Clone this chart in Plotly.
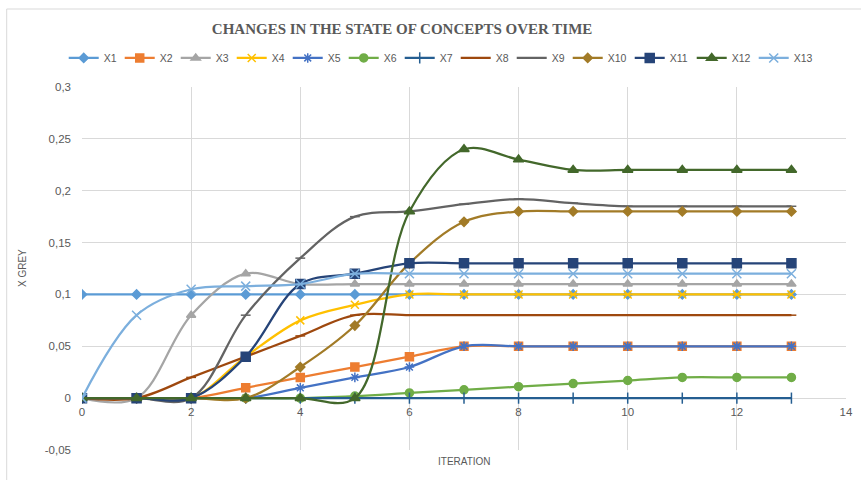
import plotly.graph_objects as go

# Iterations 0..13 and the grey state of each concept
iterations = list(range(14))

X1 = [0.1] * 14
X2 = [0, 0, 0, 0.01, 0.02, 0.03, 0.04, 0.05, 0.05, 0.05, 0.05, 0.05, 0.05, 0.05]
X3 = [0, 0, 0.08, 0.12, 0.11, 0.11, 0.11, 0.11, 0.11, 0.11, 0.11, 0.11, 0.11, 0.11]
X4 = [0, 0, 0, 0.04, 0.075, 0.09, 0.1, 0.1, 0.1, 0.1, 0.1, 0.1, 0.1, 0.1]
X5 = [0, 0, 0, 0, 0.01, 0.02, 0.03, 0.05, 0.05, 0.05, 0.05, 0.05, 0.05, 0.05]
X6 = [0, 0, 0, 0, 0, 0.002, 0.005, 0.008, 0.011, 0.014, 0.017, 0.02, 0.02, 0.02]
X7 = [0] * 14
X8 = [0, 0, 0.02, 0.04, 0.06, 0.08, 0.08, 0.08, 0.08, 0.08, 0.08, 0.08, 0.08, 0.08]
X9 = [0, 0, 0, 0.08, 0.135, 0.175, 0.18, 0.187, 0.192, 0.188, 0.185, 0.185, 0.185, 0.185]
X10 = [0, 0, 0, 0, 0.03, 0.07, 0.13, 0.17, 0.18, 0.18, 0.18, 0.18, 0.18, 0.18]
X11 = [0, 0, 0, 0.04, 0.11, 0.12, 0.13, 0.13, 0.13, 0.13, 0.13, 0.13, 0.13, 0.13]
X12 = [0, 0, 0, 0, 0, 0, 0.18, 0.24, 0.23, 0.22, 0.22, 0.22, 0.22, 0.22]
X13 = [0, 0.08, 0.105, 0.108, 0.11, 0.12, 0.12, 0.12, 0.12, 0.12, 0.12, 0.12, 0.12, 0.12]

y_tickvals = [-0.05, 0, 0.05, 0.1, 0.15, 0.2, 0.25, 0.3]
y_ticktext = ["-0,05", "0", "0,05", "0,1", "0,15", "0,2", "0,25", "0,3"]
x_tickvals = [0, 2, 4, 6, 8, 10, 12, 14]

series = [
    ("X1", X1, "#5B9BD5", "diamond", 7),
    ("X2", X2, "#ED7D31", "square", 8),
    ("X3", X3, "#A5A5A5", "triangle-up", 8),
    ("X4", X4, "#FFC000", "x-thin", 8),
    ("X5", X5, "#4472C4", "asterisk", 8),
    ("X6", X6, "#70AD47", "circle", 8),
    ("X7", X7, "#255E91", "line-ns", 8),
    ("X8", X8, "#9E480E", "line-ew", 7),
    ("X9", X9, "#636363", "line-ew", 7),
    ("X10", X10, "#A27B27", "diamond", 7),
    ("X11", X11, "#264478", "square", 9),
    ("X12", X12, "#43682B", "triangle-up", 9),
    ("X13", X13, "#7CAFDD", "x-thin", 9),
]

fig = go.Figure()
for name, vals, color, symbol, size in series:
    fig.add_trace(go.Scatter(
        x=iterations, y=vals, name=name, mode="lines+markers",
        line=dict(color=color, width=2.25, shape="spline", smoothing=1),
        marker=dict(symbol=symbol, size=size, color=color,
                    line=dict(color=color, width=1.5)),
        # legend entry width in px for the label part
        legendwidth=11 if len(name) == 2 else 17,
    ))

grid = "#D9D9D9"
tick_font = dict(family="Liberation Sans, Arial, sans-serif", size=11.5, color="#595959")
legend_font = dict(family="Liberation Sans, Arial, sans-serif", size=10.5, color="#595959")

fig.update_layout(
    width=861, height=480,
    margin=dict(l=82, r=8, t=87, b=30),
    paper_bgcolor="white", plot_bgcolor="white",
    title=dict(
        text="<b>CHANGES IN THE STATE OF CONCEPTS OVER TIME</b>",
        font=dict(family="Liberation Serif, Times New Roman, serif", size=15, color="#595959"),
        x=0.467, xanchor="center", y=1 - 29 / 480, yanchor="middle",
    ),
    showlegend=True,
    legend=dict(
        orientation="h", x=(443 - 82) / 771, xanchor="center", y=1.08, yanchor="middle",
        font=legend_font, itemwidth=30, tracegroupgap=0,
    ),
    xaxis=dict(
        range=[0, 14], tickvals=x_tickvals, showgrid=True, gridcolor=grid, gridwidth=1,
        zeroline=False, showline=False, ticks="", tickfont=tick_font,
        anchor="free", position=0.05 / 0.35, fixedrange=True, ticklabelstandoff=5,
    ),
    yaxis=dict(
        range=[-0.05, 0.3], tickvals=y_tickvals, ticktext=y_ticktext,
        showgrid=True, gridcolor=grid, gridwidth=1, zeroline=False, showline=False,
        ticks="", tickfont=tick_font, fixedrange=True, ticklabelstandoff=10,
    ),
    annotations=[
        dict(text="ITERATION", xref="paper", yref="paper", x=0.5, y=(450 - 462) / 363,
             showarrow=False, font=dict(family="Liberation Sans, Arial, sans-serif", size=10, color="#595959"),
             xanchor="center", yanchor="middle"),
        dict(text="X GREY", xref="paper", yref="paper", x=(22 - 82) / 771, y=0.5,
             textangle=-90, showarrow=False,
             font=dict(family="Liberation Sans, Arial, sans-serif", size=10, color="#595959"),
             xanchor="center", yanchor="middle"),
    ],
    shapes=[
        # light frame around the chart area
        dict(type="rect", xref="paper", yref="paper",
             x0=(6 - 82) / 771, x1=(870 - 82) / 771,
             y0=(450 - 490) / 363, y1=1 + (87 - 9) / 363,
             line=dict(color="#D9D9D9", width=1), layer="below"),
    ],
)

fig.write_html("out.html")
